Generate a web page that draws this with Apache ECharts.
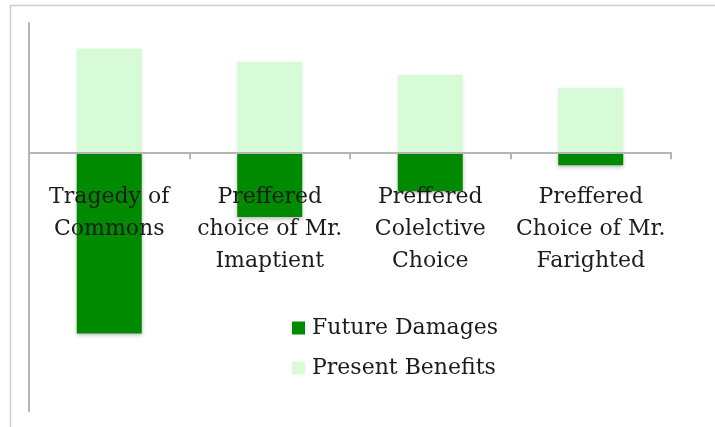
<!DOCTYPE html>
<html>
<head>
<meta charset="utf-8">
<script src="https://cdn.jsdelivr.net/npm/echarts@6/dist/echarts.min.js"></script>
<style>
  html, body { margin: 0; padding: 0; background: #ffffff; }
  #chart { width: 715px; height: 427px; }
</style>
</head>
<body>
<div id="chart"></div>
<script>
// Choices compared, one bar per choice
const categories = [
  'Tragedy of\nCommons',
  'Preffered\nchoice of Mr.\nImaptient',
  'Preffered\nColelctive\nChoice',
  'Preffered\nChoice of Mr.\nFarighted'
];
// Damages borne later (drawn below zero)
const futureDamages = [-14, -5, -3, -1];
// Benefits enjoyed now (drawn above zero)
const presentBenefits = [8, 7, 6, 5];

const serif = '"DejaVu Serif", "Liberation Serif", serif';
const barShadow = {
  shadowColor: 'rgba(0,0,0,0.28)',
  shadowBlur: 4,
  shadowOffsetY: 2
};

// value-axis range; the zero line sits ZERO_FROM_BOTTOM px above the plot's bottom edge
const yMin = -20;
const yMax = 10;
const plotTop = 23;
const plotBottom = 16;
const plotHeight = 427 - plotTop - plotBottom;
const ZERO_FROM_BOTTOM = plotHeight * (0 - yMin) / (yMax - yMin);

const chart = echarts.init(document.getElementById('chart'), null, { renderer: 'canvas' });
chart.setOption({
  animation: false,
  backgroundColor: '#ffffff',
  graphic: [{
    type: 'rect',
    z: -10,
    shape: { x: 10.5, y: 5.5, width: 740, height: 460 },
    style: { fill: 'none', stroke: '#cdcdcd', lineWidth: 1.5 }
  }],
  grid: { left: 29, right: 44, top: plotTop, bottom: plotBottom, outerBoundsMode: 'none' },
  legend: {
    orient: 'vertical',
    left: 292,
    top: 315,
    padding: 0,
    itemWidth: 13,
    itemHeight: 13,
    itemGap: 14,
    icon: 'rect',
    data: ['Future Damages', 'Present Benefits'],
    textStyle: { fontFamily: serif, fontSize: 22, lineHeight: 26, color: '#1c1c1c', padding: [0, 0, 0, 2] }
  },
  xAxis: [
    {
      // the baseline through zero, with category ticks
      type: 'category',
      data: categories,
      z: 5,
      axisLine: { show: true, onZero: true, lineStyle: { color: '#b4b4b4', width: 2 } },
      axisTick: { show: true, length: 7, lineStyle: { color: '#b4b4b4', width: 2 } },
      axisLabel: { show: false },
      splitLine: { show: false }
    },
    {
      // category names, hung just below the zero line
      type: 'category',
      data: categories,
      position: 'bottom',
      offset: -ZERO_FROM_BOTTOM,
      z: 5,
      axisLine: { show: false, onZero: false },
      axisTick: { show: false },
      axisLabel: {
        interval: 0,
        margin: 29,
        fontFamily: serif,
        fontSize: 22,
        lineHeight: 32,
        color: '#1c1c1c',
        align: 'center'
      },
      splitLine: { show: false }
    }
  ],
  yAxis: {
    type: 'value',
    min: yMin,
    max: yMax,
    axisLine: { show: true, lineStyle: { color: '#b4b4b4', width: 2 } },
    axisTick: { show: false },
    axisLabel: { show: false },
    splitLine: { show: false }
  },
  series: [
    {
      name: 'Future Damages',
      type: 'bar',
      stack: 'net',
      barWidth: 65,
      data: futureDamages,
      itemStyle: Object.assign({ color: '#008a00' }, barShadow)
    },
    {
      name: 'Present Benefits',
      type: 'bar',
      stack: 'net',
      barWidth: 65,
      data: presentBenefits,
      itemStyle: Object.assign({ color: '#d7fbd7' }, barShadow, { shadowColor: 'rgba(0,0,0,0.08)' })
    }
  ]
});
</script>
</body>
</html>
